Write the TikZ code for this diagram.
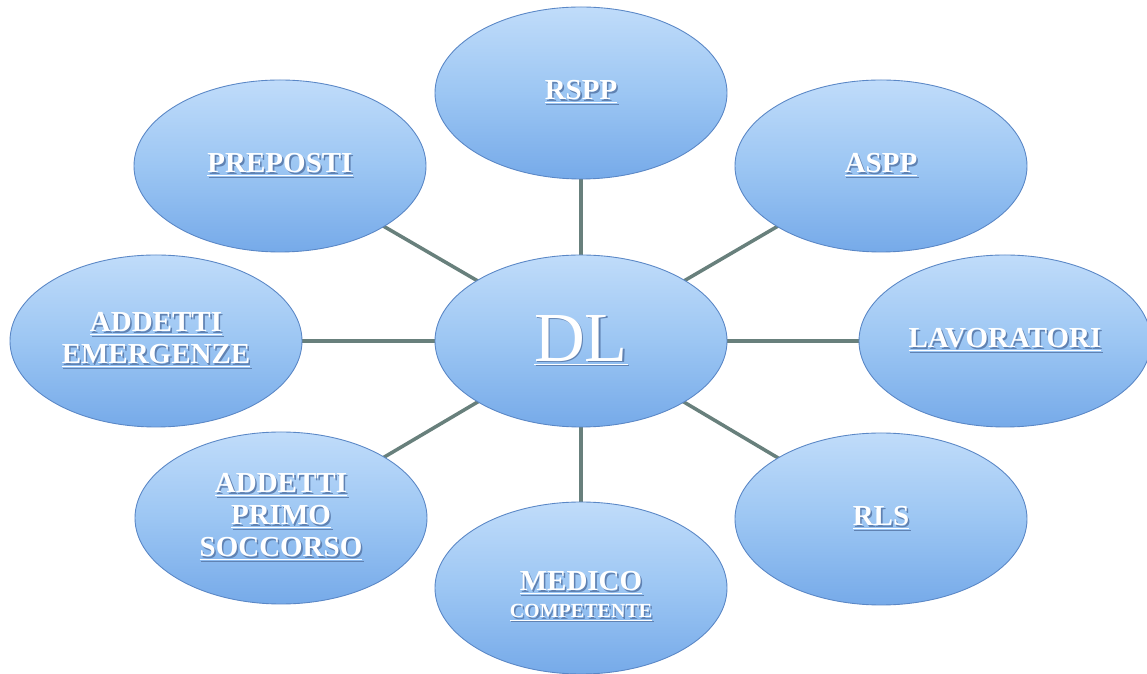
\documentclass[tikz,border=0pt]{standalone}
\usepackage{fontspec}
\setmainfont{Liberation Serif}
\usepackage{xcolor}
\usetikzlibrary{shapes.geometric}
\usetikzlibrary{backgrounds}
\definecolor{lnk}{RGB}{104,128,124}
\definecolor{topblue}{RGB}{192,220,250}
\definecolor{midblue}{RGB}{156,198,243}
\definecolor{botblue}{RGB}{118,170,233}
\definecolor{rimblue}{RGB}{90,135,198}
\definecolor{shd}{RGB}{96,130,178}
\newcommand{\shtext}[1]{\rlap{\kern0.9pt\raisebox{-0.9pt}{\textcolor{shd}{\underline{#1}}}}\underline{#1}}

\begin{document}
\begin{tikzpicture}[
	bubble/.style={ellipse,minimum width=5.84cm,minimum height=3.44cm,inner sep=0pt,
		top color=topblue,bottom color=botblue,middle color=midblue,draw=rimblue,line width=0.5pt,
		text=white,align=center,font=\fontsize{16.5}{18.2}\selectfont\bfseries},
	link/.style={draw=lnk,line width=2pt}]
		\useasboundingbox (0,0) rectangle (22.94,13.48);
		\node[bubble,font=\fontsize{40}{44}\selectfont] (dl) at (11.62,6.66) {\shtext{DL}};
		\node[bubble] (rspp) at (11.62,11.62) {\shtext{RSPP}};
		\node[bubble] (preposti) at (5.60,10.16) {\shtext{PREPOSTI}};
		\node[bubble] (aspp) at (17.62,10.16) {\shtext{ASPP}};
		\node[bubble] (emerg) at (3.12,6.66) {\shtext{ADDETTI}\\\shtext{EMERGENZE}};
		\node[bubble] (lavor) at (20.10,6.66) {\shtext{LAVORATORI}};
		\node[bubble] (soccorso) at (5.62,3.12) {\shtext{ADDETTI}\\\shtext{PRIMO}\\\shtext{SOCCORSO}};
		\node[bubble] (rls) at (17.62,3.10) {\shtext{RLS}};
		\node[bubble] (medico) at (11.62,1.72) {\rule{0pt}{0.75cm}\shtext{MEDICO}\\[-3pt]{\fontsize{11.4}{14}\selectfont\shtext{COMPETENTE}}};
	\begin{pgfonlayer}{background}
		\fill[white] (0,0) rectangle (22.94,13.48);
		\foreach \n in {rspp,preposti,aspp,emerg,lavor,soccorso,rls,medico}
			\draw[link] (dl.center) -- (\n.center);
	\end{pgfonlayer}
	\end{tikzpicture}
\end{document}
